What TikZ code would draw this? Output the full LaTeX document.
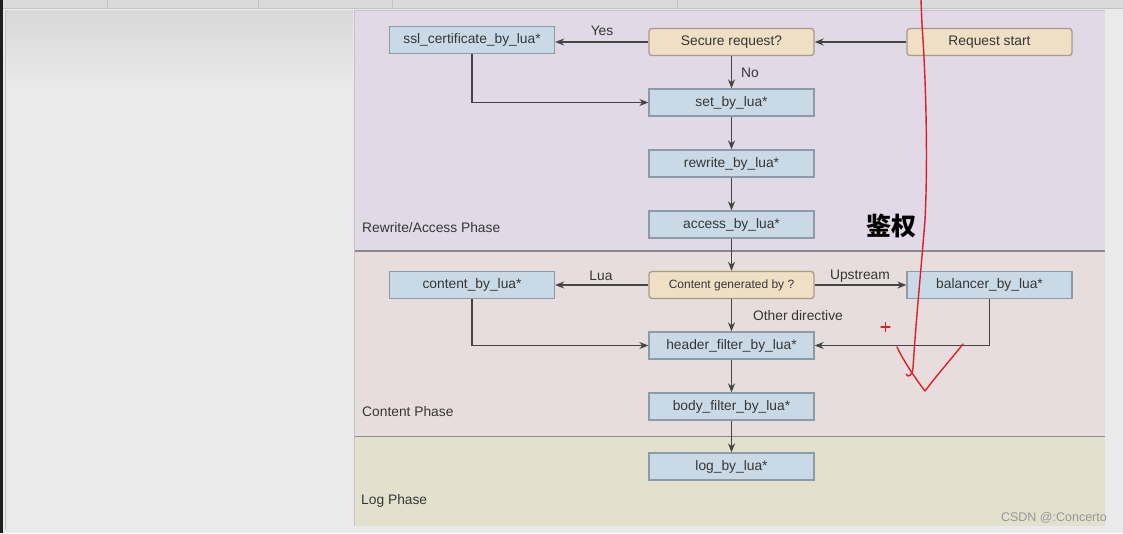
\documentclass[tikz,border=0pt]{standalone}
\usepackage{fontspec}
\setmainfont{Liberation Sans}
\newfontfamily\cjk{Noto Sans CJK SC}
\usetikzlibrary{arrows.meta,positioning}
\definecolor{pagebg}{HTML}{EAEAEA}
\definecolor{tabbg}{HTML}{DADADA}
\definecolor{tabsep}{HTML}{C4C4C4}
\definecolor{edgegray}{HTML}{C3C3C3}
\definecolor{topshade}{HTML}{D8D8D8}
\definecolor{darkedge}{HTML}{1E1E1E}
\definecolor{rewritebg}{HTML}{E1D9E5}
\definecolor{contentbg}{HTML}{E7DDDD}
\definecolor{logbg}{HTML}{E3E1CE}
\definecolor{bluefill}{HTML}{C9DAE6}
\definecolor{blueline}{HTML}{8C9BA8}
\definecolor{decfill}{HTML}{EEDFC5}
\definecolor{decline}{HTML}{A89A88}
\definecolor{conn}{HTML}{444444}
\definecolor{sepline}{HTML}{8A8A8A}
\definecolor{txt}{HTML}{363636}
\definecolor{pen}{HTML}{D8202C}
\definecolor{wmgray}{HTML}{969696}
\tikzset{
  hookbox/.style={draw=blueline, fill=bluefill, line width=1.3pt, minimum width=165pt, minimum height=27pt, inner sep=0pt, font=\fontsize{13.8}{15}\selectfont, text=txt},
  decbox/.style={draw=decline, fill=decfill, line width=1.3pt, rounded corners=3pt, minimum width=165pt, minimum height=27pt, inner sep=0pt, font=\fontsize{13.8}{15}\selectfont, text=txt},
  flow/.style={draw=conn, line width=1.8pt, -{Stealth[length=9pt,width=7pt]}},
  lbl/.style={font=\fontsize{13.8}{15}\selectfont, text=txt, inner sep=0pt},
  phase/.style={font=\fontsize{13.8}{15}\selectfont, text=txt, anchor=west, inner sep=0pt},
  redpen/.style={draw=pen, line width=1.4pt, line cap=round, line join=round}
}
\begin{document}
\begin{tikzpicture}[x=1pt,y=-1pt]
\useasboundingbox (0,0) rectangle (1123,533);
% page background
\fill[pagebg] (0,0) rectangle (1123,533);
% top tab bar
\fill[tabbg] (0,0) rectangle (1123,8);
\foreach \x in {107,258,392,677} \draw[tabsep, line width=1pt] (\x,0) -- (\x,8);
\draw[edgegray, line width=1pt] (0,8.5) -- (1123,8.5);
% left panel
\shade[top color=topshade, bottom color=pagebg] (5,10) rectangle (353,90);
\fill[pagebg] (5,90) rectangle (353,530);
\fill[darkedge] (0,0) rectangle (3,533);
\draw[edgegray, line width=1pt] (5,10) -- (5,530);
% phase bands
\fill[rewritebg] (354,10) rectangle (1105,251);
\fill[contentbg] (354,251) rectangle (1105,436);
\fill[logbg] (354,436) rectangle (1105,526);
\draw[sepline, line width=1.6pt] (354,251) -- (1105,251);
\draw[sepline, line width=1.6pt] (354,436.5) -- (1105,436.5);
\draw[edgegray, line width=1pt] (354,10) -- (1105,10);
\draw[edgegray, line width=1pt] (354,10) -- (354,526);
% phase labels
\node[phase] (pRewrite) at (362,228) {Rewrite/Access Phase};
\node[phase] (pContent) at (362,412) {Content Phase};
\node[phase] (pLog) at (361,501) {Log Phase};
% nodes
\node[hookbox] (ssl) at (472,40) {ssl\_certificate\_by\_lua*};
\node[decbox] (secure) at (731.5,42) {Secure request?};
\node[decbox] (start) at (989.5,42) {Request start};
\node[hookbox] (set) at (731.5,102.5) {set\_by\_lua*};
\node[hookbox] (rewrite) at (731.5,163.5) {rewrite\_by\_lua*};
\node[hookbox] (access) at (731.5,224.5) {access\_by\_lua*};
\node[decbox, font=\fontsize{12}{13}\selectfont] (cgen) at (731.5,285) {Content generated by ?};
\node[hookbox] (content) at (472,285) {content\_by\_lua*};
\node[hookbox] (balancer) at (989.5,285) {balancer\_by\_lua*};
\node[hookbox] (header) at (731.5,345.5) {header\_filter\_by\_lua*};
\node[hookbox] (body) at (731.5,406.5) {body\_filter\_by\_lua*};
\node[hookbox] (log) at (731.5,466.5) {log\_by\_lua*};
% connectors
\draw[flow] (start) -- (secure);
\draw[flow] (secure.west) -- (ssl.east |- secure.west);
\draw[flow] (secure) -- (set);
\draw[flow] (ssl.south) |- (set.west);
\draw[flow] (set) -- (rewrite);
\draw[flow] (rewrite) -- (access);
\draw[flow] (access) -- (cgen);
\draw[flow] (cgen) -- (content);
\draw[flow] (cgen) -- (balancer);
\draw[flow] (cgen) -- (header);
\draw[flow] (content.south) |- (header.west);
\draw[flow] (balancer.south) |- (header.east);
\draw[flow] (header) -- (body);
\draw[flow] (body) -- (log);
% edge labels
\node[lbl] (lYes) at (602,31) {Yes};
\node[lbl] (lNo) at (750,73) {No};
\node[lbl] (lLua) at (601,276) {Lua};
\node[lbl] (lUp) at (860,276) {Upstream};
\node[lbl] (lOther) at (798,316) {Other directive};
% annotations
\node[inner sep=0pt] (jq) at (891,226) {\cjk\bfseries\fontsize{25}{28}\selectfont 鉴权};
\draw[redpen] (921,0) -- (922,25) .. controls (926,80) and (928,160) .. (925,220)
  .. controls (921,270) and (916,320) .. (913,368) .. controls (912,376) and (908,378) .. (906,374);
\draw[redpen] (897,347) .. controls (903,360) and (915,378) .. (925,391) .. controls (937,375) and (952,358) .. (963,344);
\draw[redpen, line width=1.2pt] (881,327) -- (890,327) (885.5,322.5) -- (885.5,331.5);
\node[anchor=east, inner sep=0pt, text=wmgray, font=\fontsize{12.5}{14}\selectfont] (wm) at (1107,518) {CSDN @:Concerto};
\end{tikzpicture}
\end{document}
